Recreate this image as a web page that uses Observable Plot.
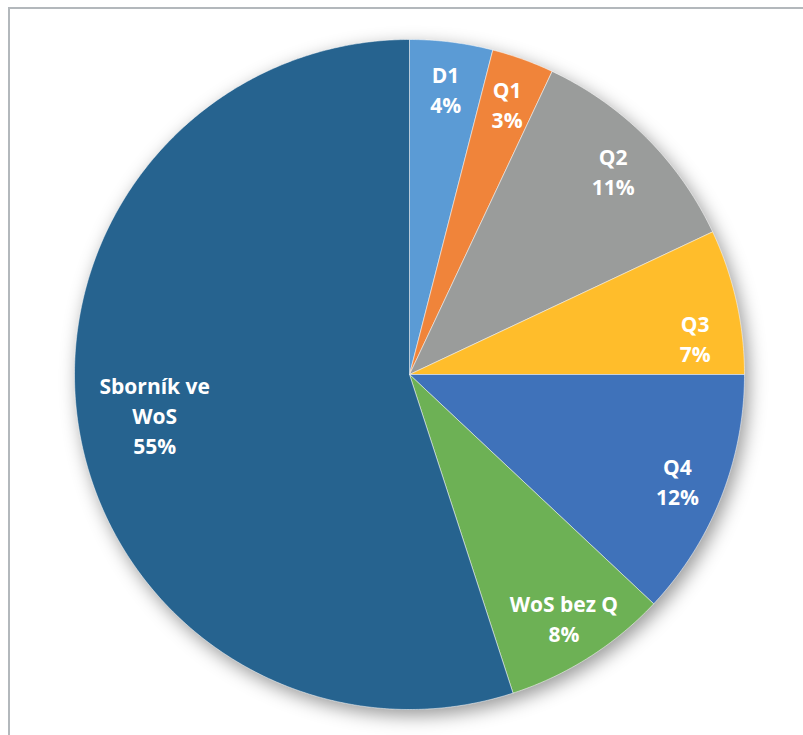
<!DOCTYPE html>
<html>
<head>
<meta charset="utf-8">
<script src="https://cdn.jsdelivr.net/npm/d3@7"></script>
<script src="https://cdn.jsdelivr.net/npm/@observablehq/plot@0.6"></script>
<style>
  html, body { margin: 0; padding: 0; background: #fff; overflow: hidden; }
  #wrap { position: relative; width: 803px; height: 735px; overflow: hidden; }
  #border { position: absolute; left: 8px; top: 7px; width: 830px; height: 770px;
            border: 2px solid #B3B8BC; box-sizing: border-box; pointer-events: none; }
  #chart { position: absolute; left: 0; top: 0; }
</style>
</head>
<body>
<div id="wrap">
  <div id="chart"></div>
  <div id="border"></div>
</div>
<script>
const categories = ["D1", "Q1", "Q2", "Q3", "Q4", "WoS bez Q", "Sborník ve WoS"];
const values = [4, 3, 11, 7, 12, 8, 55];
const labelNames = ["D1", "Q1", "Q2", "Q3", "Q4", "WoS bez Q", "Sborník ve\nWoS"];
const colors = ["#5B9BD5", "#F0843A", "#9A9C9B", "#FFBD2B", "#3F72BA", "#6DB155", "#26638F"];

const total = d3.sum(values);
const arcs = d3.pie().sort(null).value(d => d)(values);

// slice polygons in unit-circle coordinates
const slicePts = [];
arcs.forEach((a, i) => {
  const cat = categories[i];
  slicePts.push({cat, x: 0, y: 0});
  const n = Math.max(8, Math.ceil((a.endAngle - a.startAngle) / (Math.PI / 360)));
  for (let k = 0; k <= n; k++) {
    const t = a.startAngle + (a.endAngle - a.startAngle) * k / n;
    slicePts.push({cat, x: Math.sin(t), y: Math.cos(t)});
  }
  slicePts.push({cat, x: 0, y: 0});
});

// label placement (layout): radius fraction, with Excel-like best-fit nudge for the slice at 3 o'clock
const labels = arcs.map((a, i) => {
  let mid = (a.startAngle + a.endAngle) / 2;
  if (mid > 1.2 && mid < Math.PI / 2) mid += 0.09;
  const r = values[i] > 50 ? 0.77 : 0.86;
  return {
    x: r * Math.sin(mid),
    y: r * Math.cos(mid),
    text: labelNames[i] + "\n" + Math.round(values[i] / total * 100) + "%"
  };
});

const chart = Plot.plot({
  width: 803,
  height: 735,
  margin: 0,
  x: {domain: [-1, 1], range: [74, 744], axis: null},
  y: {domain: [-1, 1], range: [709, 39], axis: null},
  color: {domain: categories, range: colors},
  style: {background: "transparent"},
  marks: [
    Plot.line(slicePts, {x: "x", y: "y", z: "cat", fill: "cat", stroke: "#ffffff",
      strokeWidth: 1, strokeOpacity: 0.5, curve: "linear"}),
    Plot.text(labels, {x: "x", y: "y", text: "text", fill: "#ffffff",
      fontSize: 21, fontWeight: "bold", fontFamily: "'Open Sans', Lato, sans-serif",
      lineHeight: 1.43, textAnchor: "middle"})
  ]
});

const lineG = chart.querySelector('g[aria-label="line"]');
if (lineG) lineG.style.filter = "drop-shadow(4px 6px 9px rgba(0,0,0,0.4))";
document.getElementById("chart").appendChild(chart);
</script>
</body>
</html>
